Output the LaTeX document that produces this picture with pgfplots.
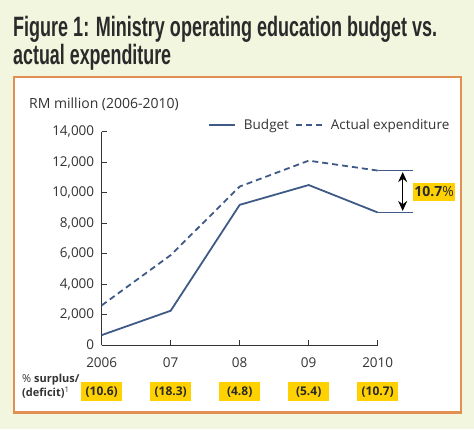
\documentclass[border=0pt]{standalone}
\usepackage{pgfplots}
\pgfplotsset{compat=1.18}
\usepackage{fontspec}
\usepackage{graphicx}
\usetikzlibrary{arrows.meta}
\setmainfont{Open Sans}
\newfontfamily\titlefont{Liberation Sans}
\definecolor{bgc}{HTML}{F3F6DF}
\definecolor{borderc}{HTML}{E29052}
\definecolor{linec}{HTML}{3F5A86}
\definecolor{yellowc}{HTML}{FFD100}
\definecolor{textc}{HTML}{333333}
\definecolor{titlec}{HTML}{2A2A2A}
\tikzset{pctbox/.style={fill=yellowc, minimum width=41pt, minimum height=19pt, inner sep=0pt, text=titlec,
    font=\bfseries\fontsize{12}{14}\selectfont}}
\begin{document}
\begin{tikzpicture}
\useasboundingbox (0,0) rectangle (474pt,-429pt);
\fill[bgc] (0,0) rectangle (474pt,-429pt);
\filldraw[fill=white, draw=borderc, line width=2.5pt] (14pt,-77pt) rectangle (461pt,-412.5pt);
% title
\node[anchor=base west, inner sep=0pt, text=titlec] at (13pt,-36pt)
  {\fontsize{28}{30}\titlefont\bfseries\resizebox{424pt}{\height}{Figure 1: Ministry operating education budget vs.}};
\node[anchor=base west, inner sep=0pt, text=titlec] at (13pt,-64pt)
  {\fontsize{28}{30}\titlefont\bfseries\resizebox{158pt}{\height}{actual expenditure}};
% unit label
\node[anchor=base west, inner sep=0pt, text=textc] at (29pt,-108pt)
  {\fontsize{14}{16}\selectfont RM million (2006-2010)};
% row label
\node[anchor=base west, inner sep=0pt, text=textc] at (22pt,-382pt)
  {\fontsize{11}{12}\selectfont \% \textbf{surplus/}};
\node[anchor=base west, inner sep=0pt, text=textc] at (22pt,-396pt)
  {\fontsize{11}{12}\selectfont \textbf{(deficit)}\textsuperscript{1}};
\begin{axis}[
  at={(101.7pt,-345pt)}, anchor=south west,
  scale only axis, width=276pt, height=213.3pt,
  xmin=2006, xmax=2010, ymin=0, ymax=14000,
  clip=false,
  axis lines=left,
  axis line style={-, draw=textc, line width=0.9pt},
  xtick={2006,2007,2008,2009,2010},
  xticklabels={2006,07,08,09,2010},
  ytick={0,2000,4000,6000,8000,10000,12000,14000},
  scaled y ticks=false,
  /pgf/number format/.cd, 1000 sep={,}, assume math mode=true,
  /pgfplots/.cd,
  tick align=inside,
  major tick length=5pt,
  tick style={draw=textc, line width=0.9pt},
  tick label style={font=\fontsize{13.5}{16}\selectfont, text=textc},
  xticklabel style={anchor=base, yshift=-22pt},
  yticklabel style={xshift=-4pt},
  legend columns=-1,
  legend image code/.code={\draw[#1] (0pt,0pt) -- (26pt,0pt);},
  legend style={at={(axis description cs:0.385,1.031)}, anchor=west,
    draw=none, fill=none, inner sep=0pt,
    nodes={inner sep=0pt, text=textc, font=\fontsize{13.5}{16}\selectfont},
    /tikz/every odd column/.append style={column sep=8pt},
    /tikz/every even column/.append style={column sep=6pt}},
]
\addplot[linec, line width=1.8pt, mark=none] coordinates {
  (2006,650) (2007,2250) (2008,9200) (2009,10500) (2010,8700)};
\addlegendentry{Budget}
\addplot[linec, line width=1.8pt, mark=none, dash pattern=on 6pt off 4pt] coordinates {
  (2006,2600) (2007,5900) (2008,10400) (2009,12100) (2010,11450)};
\addlegendentry{Actual expenditure}
% annotation
\draw[linec, line width=1.8pt] (axis cs:2010,11450) -- ([xshift=35pt]axis cs:2010,11450);
\draw[linec, line width=1.8pt] (axis cs:2010,8700) -- ([xshift=35pt]axis cs:2010,8700);
\draw[black, line width=1.2pt, {Stealth[length=10pt,width=9pt]}-{Stealth[length=10pt,width=9pt]}]
  ([xshift=25pt,yshift=-1.5pt]axis cs:2010,11450) -- ([xshift=25pt,yshift=1.5pt]axis cs:2010,8700);
\node[fill=yellowc, anchor=west, inner sep=1.5pt, minimum height=18pt, text=titlec,
  font=\fontsize{14}{16}\selectfont] at ([xshift=35pt]axis cs:2010,10075) {\textbf{10.7}\%};
% surplus / deficit row
\node[pctbox] at ([yshift=-46.7pt]axis cs:2006,0) {(10.6)};
\node[pctbox] at ([yshift=-46.7pt]axis cs:2007,0) {(18.3)};
\node[pctbox] at ([yshift=-46.7pt]axis cs:2008,0) {(4.8)};
\node[pctbox] at ([yshift=-46.7pt]axis cs:2009,0) {(5.4)};
\node[pctbox] at ([yshift=-46.7pt]axis cs:2010,0) {(10.7)};
\end{axis}
\end{tikzpicture}
\end{document}
